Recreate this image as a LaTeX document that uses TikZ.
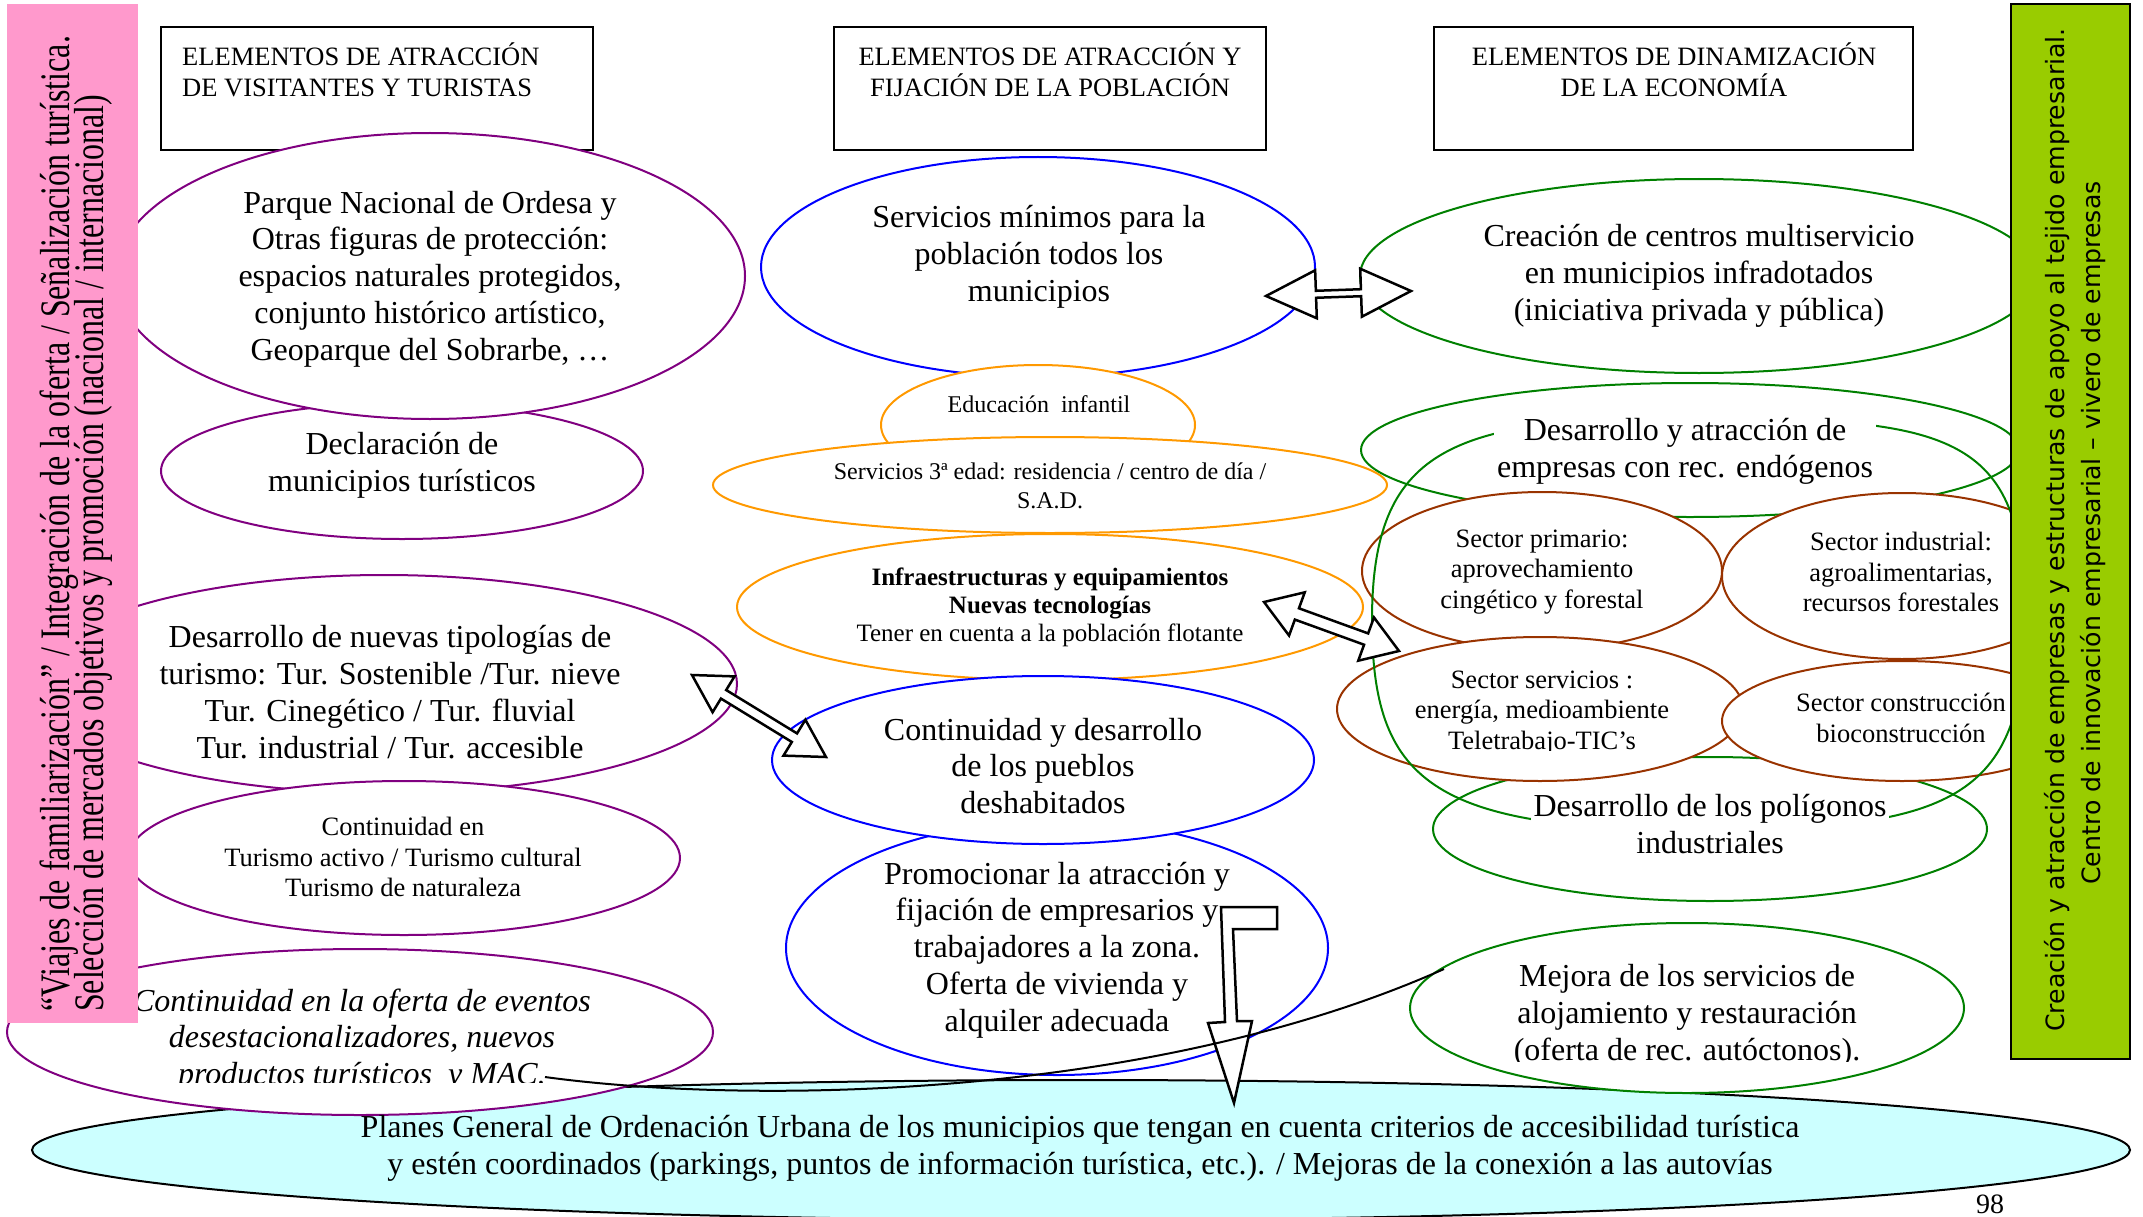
\documentclass[tikz,border=0pt]{standalone}
\usepackage{fontspec}
\usepackage{graphicx}
\setmainfont{Liberation Serif}
\newfontfamily\dejavu{DejaVu Sans}
\usetikzlibrary{shapes.geometric,calc}
\definecolor{cpurple}{RGB}{128,0,128}
\definecolor{cblue}{RGB}{0,0,255}
\definecolor{corange}{RGB}{255,153,0}
\definecolor{cgreen}{RGB}{0,128,0}
\definecolor{cbrown}{RGB}{153,51,0}
\definecolor{cpink}{RGB}{255,153,204}
\definecolor{clime}{RGB}{153,204,0}
\definecolor{ccyan}{RGB}{204,255,255}
\newcommand\blockarrow[5]{%
 \draw[blkarrow] (#1) -- ($(#1)!#3!(#2)!#4!90:(#2)$) -- ($(#1)!#3!(#2)!#5!90:(#2)$)
  -- ($(#2)!#3!(#1)!#5!-90:(#1)$) -- ($(#2)!#3!(#1)!#4!-90:(#1)$) -- (#2)
  -- ($(#2)!#3!(#1)!#4!90:(#1)$) -- ($(#2)!#3!(#1)!#5!90:(#1)$)
  -- ($(#1)!#3!(#2)!#5!-90:(#2)$) -- ($(#1)!#3!(#2)!#4!-90:(#2)$) -- cycle;}
\begin{document}
\begin{tikzpicture}[x=1pt,y=-1pt,
  ell/.style={ellipse, draw, line width=2pt, fill=white, inner sep=0pt, outer sep=0pt},
  hdr/.style={draw=black, line width=2pt, fill=white, inner sep=0pt},
  big/.style={align=center, inner sep=0pt, font=\fontsize{32}{36.8}\selectfont},
  bigi/.style={align=center, inner sep=0pt, font=\fontsize{32}{36.8}\selectfont\itshape},
  hdrtxt/.style={inner sep=0pt, font=\fontsize{26.5}{31}\selectfont},
  mid/.style={align=center, inner sep=0pt, font=\fontsize{26.5}{30.5}\selectfont},
  small/.style={align=center, inner sep=0pt, font=\fontsize{24}{29}\selectfont},
  smallb/.style={align=center, inner sep=0pt, font=\fontsize{25}{28}\selectfont},
  blkarrow/.style={draw=black, line width=2.5pt, fill=white, line join=miter},
  gapbox/.style={fill=white, inner xsep=3pt, inner ysep=4pt}
]
\useasboundingbox (0,0) rectangle (2143,1217);

% bottom cyan ellipse
\node[ell, draw=black, fill=ccyan, minimum width=2098pt, minimum height=140pt] (cyan) at (1081,1150) {};

% header boxes
\node[hdr, minimum width=432pt, minimum height=123pt] (h1) at (377,88.5) {};
\node[hdr, minimum width=432pt, minimum height=123pt] (h2) at (1050,88.5) {};
\node[hdr, minimum width=479pt, minimum height=123pt] (h3) at (1673.5,88.5) {};
\node[hdrtxt, align=left, anchor=west] (h1t) at (182,70) {ELEMENTOS DE ATRACCIÓN\\DE VISITANTES Y TURISTAS};
\node[hdrtxt, align=center] (h2t) at (1050,70) {ELEMENTOS DE ATRACCIÓN Y\\FIJACIÓN DE LA POBLACIÓN};
\node[hdrtxt, align=center] (h3t) at (1674,70) {ELEMENTOS DE DINAMIZACIÓN\\DE LA ECONOMÍA};

% left column
\node[ell, draw=cpurple, minimum width=482pt, minimum height=136pt] (e2) at (402,471) {};
\node[ell, draw=cpurple, minimum width=630pt, minimum height=286pt] (e1) at (430,276) {};
\node[ell, draw=cpurple, minimum width=706pt, minimum height=218pt] (e3) at (384,684) {};
\node[ell, draw=cpurple, minimum width=552pt, minimum height=154pt] (e4) at (404,858) {};
\node[ell, draw=cpurple, minimum width=706pt, minimum height=166pt] (e5) at (360,1032) {};

% centre column
\node[ell, draw=cblue, minimum width=554pt, minimum height=220pt] (e6) at (1038,267) {};
\node[ell, draw=corange, minimum width=314pt, minimum height=120pt] (e7) at (1038,425) {};
\node[ell, draw=corange, minimum width=674pt, minimum height=96pt] (e8) at (1050,485) {};
\node[ell, draw=corange, minimum width=626pt, minimum height=146pt] (e9) at (1050,607) {};
\node[ell, draw=cblue, minimum width=542pt, minimum height=254pt] (e11) at (1057,948) {};
\node[ell, draw=cblue, minimum width=542pt, minimum height=168pt] (e10) at (1043,760) {};

% right column
\node[ell, draw=cgreen, minimum width=678pt, minimum height=194pt] (e12) at (1699,276) {};
\node[ell, draw=cgreen, minimum width=658pt, minimum height=134pt] (e13) at (1690,450) {};
\node[ell, draw=cgreen, minimum width=554pt, minimum height=144pt] (e16) at (1710,829) {};
\node[ell, draw=cbrown, minimum width=360pt, minimum height=158pt] (e17) at (1542,571) {};
\node[ell, draw=cbrown, minimum width=360pt, minimum height=166pt] (e18) at (1902,576) {};
\node[ell, draw=cbrown, minimum width=406pt, minimum height=144pt] (e19) at (1540,709) {};
\node[ell, draw=cbrown, minimum width=360pt, minimum height=120pt] (e20) at (1902,721) {};
% big loop round the sectors
\draw[cgreen, line width=2pt] (1684,418) .. controls (1450,418) and (1372,450) .. (1372,620)
  .. controls (1372,780) and (1430,830) .. (1700,830)
  .. controls (1950,830) and (2025,800) .. (2025,620)
  .. controls (2025,430) and (1950,418) .. (1684,418);
\node[ell, draw=cgreen, minimum width=554pt, minimum height=170pt] (e21) at (1687,1008) {};

% texts
\node[big] (t1) at (430,279) {Parque Nacional de Ordesa y\\Otras figuras de protección:\\espacios naturales protegidos,\\conjunto histórico artístico,\\Geoparque del Sobrarbe, …};
\node[big] (t2) at (402,465) {Declaración de\\municipios turísticos};
\node[big] (t3) at (390,692) {Desarrollo de nuevas tipologías de\\turismo: Tur. Sostenible /Tur. nieve\\Tur. Cinegético / Tur. fluvial\\Tur. industrial / Tur. accesible};
\node[mid] (t4) at (403,857) {Continuidad en\\Turismo activo / Turismo cultural\\Turismo de naturaleza};
\begin{scope}
\clip (0,0) rectangle (2143,1082);
\node[bigi] (t5) at (362,1040) {Continuidad en la oferta de eventos\\desestacionalizadores, nuevos\\productos turísticos \ y MAC.};
\end{scope}
\node[big] (t6) at (1039,257) {Servicios mínimos para la\\población todos los\\municipios};
\node[small] (t7) at (1039,404) {Educación \ infantil};
\node[small] (t8) at (1050,486) {Servicios 3ª edad: residencia / centro de día /\\S.A.D.};
\node[smallb] (t9) at (1050,607) {\textbf{Infraestructuras y equipamientos}\\\textbf{Nuevas tecnologías}\\Tener en cuenta a la población flotante};
\node[big] (t10) at (1043,766) {Continuidad y desarrollo\\de los pueblos\\deshabitados};
\node[big] (t11) at (1057,950) {Promocionar la atracción y\\fijación de empresarios y\\trabajadores a la zona.\\Oferta de vivienda y\\alquiler adecuada};
\node[big] (t12) at (1699,276) {Creación de centros multiservicio\\en municipios infradotados\\(iniciativa privada y pública)};
\node[big, gapbox] (t13) at (1685,451) {Desarrollo y atracción de\\empresas con rec. endógenos};
\node[mid] (t17) at (1542,572) {Sector primario:\\aprovechamiento\\cingético y forestal};
\node[mid] (t18) at (1901,572) {Sector industrial:\\agroalimentarias,\\recursos forestales};
\begin{scope}
\clip (0,0) rectangle (2143,750);
\node[mid] (t19) at (1542,713) {Sector servicios :\\energía, medioambiente\\Teletrabajo-TIC’s};
\end{scope}
\node[mid] (t20) at (1901,718) {Sector construcción\\bioconstrucción};
\node[big, gapbox] (t16) at (1710,824) {Desarrollo de los polígonos\\industriales};
\begin{scope}
\clip (0,0) rectangle (2143,1061);
\node[big] (t21) at (1687,1016) {Mejora de los servicios de\\alojamiento y restauración\\(oferta de rec. autóctonos).};
\end{scope}
\node[big] (tc) at (1080,1148) {Planes General de Ordenación Urbana de los municipios que tengan en cuenta criterios de accesibilidad turística\\y estén coordinados (parkings, puntos de información turística, etc.). / Mejoras de la conexión a las autovías};

% side bars
\node[fill=cpink, draw=none, inner sep=0pt, minimum width=131pt, minimum height=1019pt] (pink) at (72.5,513.5) {};
\node[rotate=90, anchor=base west, inner sep=0pt, font=\fontsize{42}{42}\selectfont] (pk1) at (69,1012) {\scalebox{0.76}[1]{“Viajes de familiarización” / Integración de la oferta / Señalización turística.}};
\node[rotate=90, anchor=base west, inner sep=0pt, font=\fontsize{42}{42}\selectfont] (pk2) at (103,1012) {\scalebox{0.76}[1]{Selección de mercados objetivos y promoción (nacional / internacional)}};
\node[fill=clime, draw=black, line width=2pt, inner sep=0pt, minimum width=119pt, minimum height=1055pt] (gbar) at (2070.5,531.5) {};
\node[rotate=90, anchor=base, inner sep=0pt, font=\dejavu\fontsize{25.2}{25.2}\selectfont] (gt1) at (2064,530) {Creación y atracción de empresas y estructuras de apoyo al tejido empresarial.};
\node[rotate=90, anchor=base, inner sep=0pt, font=\dejavu\fontsize{25.2}{25.2}\selectfont] (gt2) at (2100,533) {Centro de innovación empresarial – vivero de empresas};

% block arrows
\coordinate (a1s) at (1266,296); \coordinate (a1e) at (1411,291);
\coordinate (a2s) at (692,675);  \coordinate (a2e) at (826,757);
\coordinate (a3s) at (1264,602); \coordinate (a3e) at (1399,651);
\blockarrow{a1s}{a1e}{50pt}{24pt}{3.5pt}
\blockarrow{a2s}{a2e}{37pt}{21pt}{5pt}
\blockarrow{a3s}{a3e}{35pt}{23pt}{6pt}
% bent arrow down to the bottom ellipse
\draw[blkarrow] (1221,907) -- (1277,907) -- (1277,929) -- (1233,929) -- (1237,1021) -- (1252,1021)
  -- (1234,1103) -- (1208,1023) -- (1225,1022) -- cycle;

% thin connecting curve
\coordinate (cs) at (545,1077); \coordinate (ce) at (1444,969);
\draw[black, line width=2pt] (cs) .. controls (750,1105) and (1150,1100) .. (ce);

% page number
\node[anchor=base, inner sep=0pt, font=\fontsize{28}{28}\selectfont] (pg) at (1990,1213) {98};
\end{tikzpicture}
\end{document}
